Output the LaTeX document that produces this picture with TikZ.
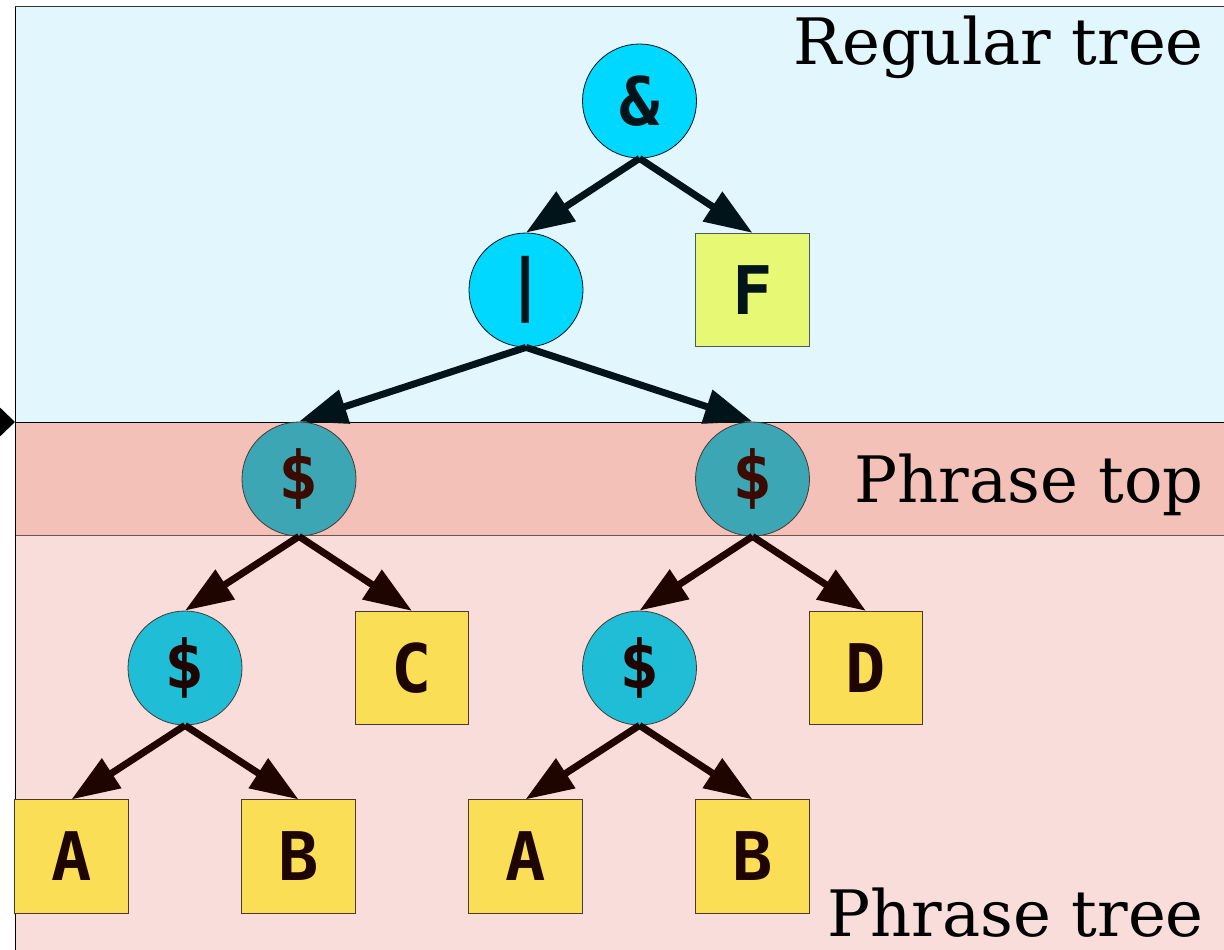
\documentclass[tikz,border=0pt]{standalone}
\usepackage{fontspec}
\setmainfont{DejaVu Serif}
\setmonofont{DejaVu Sans Mono}
\usetikzlibrary{arrows.meta}

\definecolor{regbg}{HTML}{E2F6FE}
\definecolor{topbg}{HTML}{F3C1B8}
\definecolor{treebg}{HTML}{F9DDDA}
\definecolor{opcyan}{HTML}{00D8FF}
\definecolor{leafgreen}{HTML}{E7F974}
\definecolor{phrteal}{HTML}{3DA6B5}
\definecolor{subcyan}{HTML}{1FBED6}
\definecolor{leafyellow}{HTML}{F9DE56}
\definecolor{inkblue}{HTML}{00141A}
\definecolor{inkbrown}{HTML}{1E0500}
\definecolor{inkred}{HTML}{3B0A00}
\definecolor{bandline}{HTML}{6E5550}

\tikzset{
  glyph/.style={font=\fontsize{67}{67}\selectfont\ttfamily\bfseries},
  opnode/.style={circle, minimum size=114pt, inner sep=0pt, line width=0.8pt, glyph},
  leafnode/.style={rectangle, minimum size=113.4pt, inner sep=0pt, line width=0.8pt, glyph},
  regop/.style={opnode, draw=inkblue, fill=opcyan, text=inkblue},
  regleaf/.style={leafnode, draw=inkblue!70, fill=leafgreen, text=inkblue},
  topop/.style={opnode, draw=inkbrown!80, fill=phrteal, text=inkred},
  subop/.style={opnode, draw=inkbrown!80, fill=subcyan, text=inkbrown},
  phrleaf/.style={leafnode, draw=inkbrown!80, fill=leafyellow, text=inkbrown},
  edge/.style={line width=7pt, -{Triangle[length=48pt,width=34pt]}},
  regedge/.style={edge, draw=inkblue, fill=inkblue},
  phredge/.style={edge, draw=inkbrown, fill=inkbrown},
  region/.style={font=\fontsize{64}{64}\selectfont, anchor=base east, inner sep=0pt}
}

\begin{document}
\begin{tikzpicture}[x=1pt,y=-1pt]
\useasboundingbox (0,0) rectangle (1224,950);
\begin{scope}
  \clip (0,0) rectangle (1224,950);
  % background bands
  \fill[regbg] (15,7) rectangle (1230,422);
  \fill[topbg] (15,422) rectangle (1230,535);
  \fill[treebg] (15,535) rectangle (1230,960);
  \draw[line width=1pt, black!80] (15,7) -- (1230,7);
  \draw[line width=1pt, black] (15,422) -- (1230,422);
  \draw[line width=1pt, bandline] (15,535) -- (1230,535);
  \draw[line width=1pt, black] (15.5,7) -- (15.5,960);
  % marker on the left edge
  \fill[black] (-12,396) -- (15,422) -- (-12,448) -- cycle;
\end{scope}

% region labels
\node[region] (lblreg) at (1204,65) {Regular tree};
\node[region] (lbltop) at (1204,502) {Phrase top};
\node[region] (lbltree) at (1204,936) {Phrase tree};

% regular tree
\node[regop] (amp) at (639.5,101) {\&};
\node[regop] (bar) at (526,290) {|};
\node[regleaf] (f) at (752.5,290) {F};

% phrase tops
\node[topop] (pl) at (299,479) {\$};
\node[topop] (pr) at (752.5,479) {\$};

% phrase trees
\node[subop] (sl) at (185,668) {\$};
\node[phrleaf] (c) at (412,668) {C};
\node[subop] (sr) at (639.5,668) {\$};
\node[phrleaf] (d) at (866,668) {D};
\node[phrleaf] (a1) at (71.5,856.5) {A};
\node[phrleaf] (b1) at (298.5,856.5) {B};
\node[phrleaf] (a2) at (525.5,856.5) {A};
\node[phrleaf] (b2) at (752.5,856.5) {B};

% connectors
\draw[regedge] (amp.south) -- (bar.north);
\draw[regedge] (amp.south) -- (f.north);
\draw[regedge] (bar.south) -- (pl.north);
\draw[regedge] (bar.south) -- (pr.north);
\draw[phredge] (pl.south) -- (sl.north);
\draw[phredge] (pl.south) -- (c.north);
\draw[phredge] (pr.south) -- (sr.north);
\draw[phredge] (pr.south) -- (d.north);
\draw[phredge] (sl.south) -- (a1.north);
\draw[phredge] (sl.south) -- (b1.north);
\draw[phredge] (sr.south) -- (a2.north);
\draw[phredge] (sr.south) -- (b2.north);
\end{tikzpicture}
\end{document}
